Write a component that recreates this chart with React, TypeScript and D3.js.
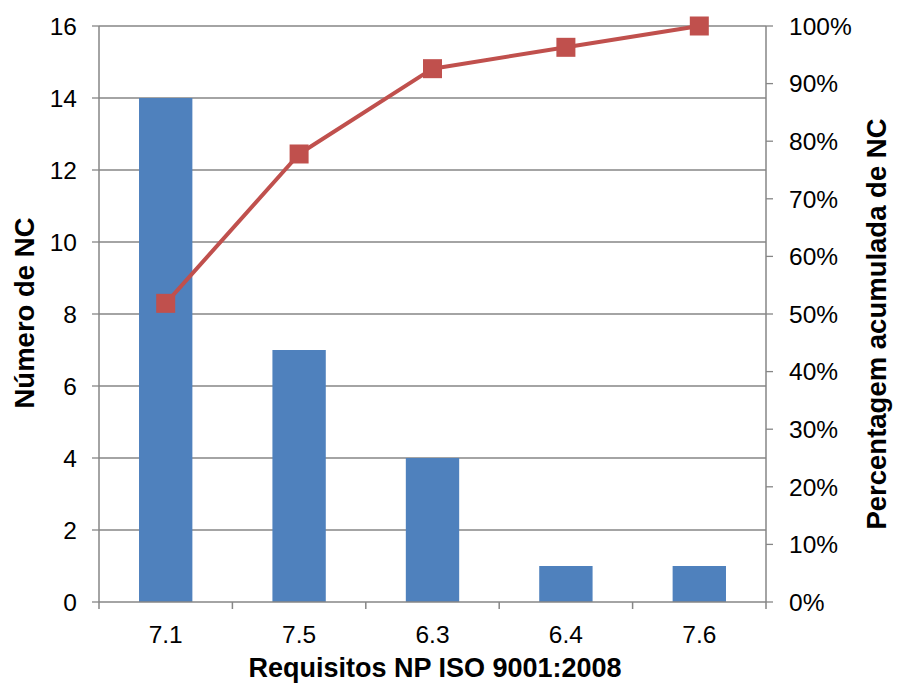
import React from "react";
import * as d3 from "d3";

const categories = ["7.1", "7.5", "6.3", "6.4", "7.6"];
const counts = [14, 7, 4, 1, 1];
const cumulativePct = [51.85, 77.78, 92.59, 96.3, 100];
const leftTicks = [0, 2, 4, 6, 8, 10, 12, 14, 16];
const rightTicks = [0, 10, 20, 30, 40, 50, 60, 70, 80, 90, 100];

const W = 897;
const H = 684;
const m = { left: 99, right: 766, top: 26, bottom: 602 };
const FONT = "'Liberation Sans', Arial, sans-serif";
const AXIS = "#868686";
const BAR = "#4F81BD";
const LINE = "#C0504D";

export default function App() {
  const x = d3.scaleBand<string>().domain(categories).range([m.left, m.right]).paddingInner(0.6).paddingOuter(0.3);
  const xOuter = d3.scaleBand<string>().domain(categories).range([m.left, m.right]);
  const yL = d3.scaleLinear().domain([0, 16]).range([m.bottom, m.top]);
  const yR = d3.scaleLinear().domain([0, 100]).range([m.bottom, m.top]);
  const line = d3
    .line<number>()
    .x((_, i) => (xOuter(categories[i]) as number) + xOuter.bandwidth() / 2)
    .y((d) => yR(d));
  const ms = 19;
  const boundaries = categories.map((c) => xOuter(c) as number).concat([m.right]);

  return (
    <svg width={W} height={H} style={{ position: "absolute", left: 0, top: 0, background: "#fff" }} fontFamily={FONT}>
      {leftTicks.map((t) => (
        <g key={"l" + t}>
          {t > 0 && <line x1={m.left} x2={m.right} y1={yL(t)} y2={yL(t)} stroke={AXIS} strokeWidth={1.3} />}
          <line x1={m.left - 7} x2={m.left} y1={yL(t)} y2={yL(t)} stroke={AXIS} strokeWidth={1.3} />
          <text x={77} y={yL(t)} dy="0.36em" textAnchor="end" fontSize={24.5} fill="#000">
            {t}
          </text>
        </g>
      ))}
      {rightTicks.map((t) => (
        <g key={"r" + t}>
          <line x1={m.right} x2={m.right + 7} y1={yR(t)} y2={yR(t)} stroke={AXIS} strokeWidth={1.3} />
          <text x={789} y={yR(t)} dy="0.36em" textAnchor="start" fontSize={24.5} fill="#000">
            {t}%
          </text>
        </g>
      ))}
      {categories.map((c, i) => (
        <rect key={c} x={x(c)} y={yL(counts[i])} width={x.bandwidth()} height={m.bottom - yL(counts[i])} fill={BAR} />
      ))}
      <line x1={m.left} x2={m.left} y1={m.top} y2={m.bottom} stroke={AXIS} strokeWidth={1.5} />
      <line x1={m.right} x2={m.right} y1={m.top} y2={m.bottom} stroke={AXIS} strokeWidth={1.5} />
      <line x1={m.left} x2={m.right} y1={m.bottom} y2={m.bottom} stroke={AXIS} strokeWidth={1.5} />
      {boundaries.map((b, i) => (
        <line key={"b" + i} x1={b} x2={b} y1={m.bottom} y2={m.bottom + 7} stroke={AXIS} strokeWidth={1.5} />
      ))}
      {categories.map((c) => (
        <text key={"xl" + c} x={(xOuter(c) as number) + xOuter.bandwidth() / 2} y={634} dy="0.36em" textAnchor="middle" fontSize={24.5} fill="#000">
          {c}
        </text>
      ))}
      <path d={line(cumulativePct) || ""} fill="none" stroke={LINE} strokeWidth={4} strokeLinejoin="round" />
      {cumulativePct.map((v, i) => (
        <rect
          key={"m" + i}
          x={(xOuter(categories[i]) as number) + xOuter.bandwidth() / 2 - ms / 2}
          y={yR(v) - ms / 2}
          width={ms}
          height={ms}
          fill={LINE}
        />
      ))}
      <text x={435} y={677} textAnchor="middle" fontSize={27} fontWeight="bold" fill="#000">
        Requisitos NP ISO 9001:2008
      </text>
      <text transform={`translate(34,313) rotate(-90)`} textAnchor="middle" fontSize={27.5} fontWeight="bold" fill="#000">
        Número de NC
      </text>
      <text transform={`translate(886,324) rotate(-90)`} textAnchor="middle" fontSize={27.5} fontWeight="bold" fill="#000">
        Percentagem acumulada de NC
      </text>
    </svg>
  );
}
